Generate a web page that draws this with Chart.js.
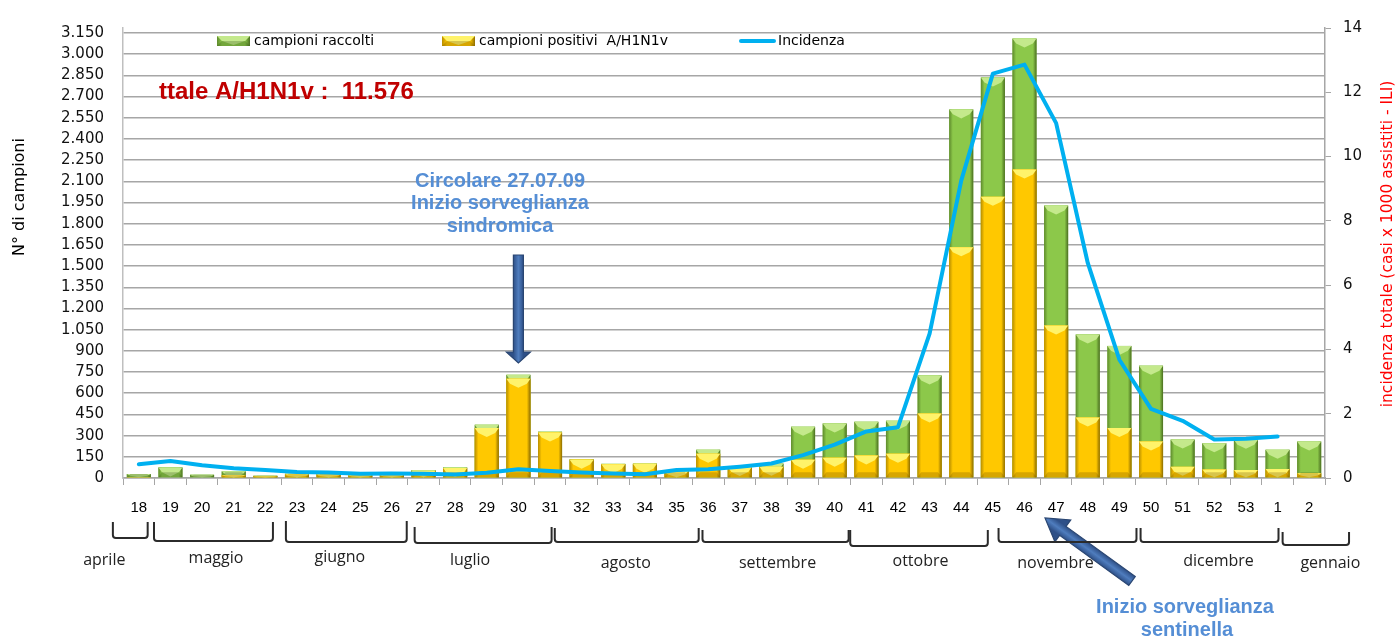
<!DOCTYPE html>
<html>
<head>
<meta charset="utf-8">
<script src="https://cdn.jsdelivr.net/npm/chart.js@4/dist/chart.umd.min.js"></script>
<style>
html,body{margin:0;padding:0;background:#fff;}
canvas{display:block;}
</style>
</head>
<body>
<canvas id="c" width="1399" height="639"></canvas>
<script>
// ---------- DATA ----------
const weeks = ['18','19','20','21','22','23','24','25','26','27','28','29','30','31','32','33','34','35','36','37','38','39','40','41','42','43','44','45','46','47','48','49','50','51','52','53','1','2'];
const campioniRaccolti = [28,75,23,47,16,30,28,20,25,56,76,377,730,328,133,100,102,56,200,85,102,363,386,398,405,726,2609,2835,3110,1928,1016,935,795,272,246,270,200,258];
const campioniPositivi = [3,0,0,20,12,25,25,18,22,50,70,354,703,322,130,98,100,50,172,78,79,130,144,160,172,456,1633,1990,2184,1079,428,354,258,79,60,56,63,33];
const incidenza = [0.43,0.53,0.40,0.30,0.25,0.19,0.17,0.13,0.14,0.13,0.11,0.16,0.27,0.22,0.17,0.14,0.12,0.25,0.27,0.35,0.45,0.71,1.04,1.45,1.58,4.49,9.25,12.58,12.86,11.04,6.69,3.68,2.15,1.78,1.20,1.22,1.29,null];
const seriesLabels = ['campioni raccolti','campioni positivi  A/H1N1v','Incidenza'];
const months = ['aprile','maggio','giugno','luglio','agosto','settembre','ottobre','novembre','dicembre','gennaio'];
const monthFirstWeek = ['18','19','23','27','32','36','41','46','50','2'];
const monthLastWeek  = ['18','22','26','31','35','40','45','49','1','2'];
const leftAxisTitle = 'N° di campioni';
const rightAxisTitle = 'incidenza totale (casi x 1000 assistiti - ILI)';
const totalText = 'ttale A/H1N1v :  11.576';
const note1 = ['Circolare 27.07.09','Inizio sorveglianza','sindromica'];
const note2 = ['Inizio sorveglianza','sentinella'];

// ---------- STYLE ----------
const fmt = v => String(v).replace(/\B(?=(\d{3})+(?!\d))/g, '.');
const palGreen  = {mid:'#8CC84A', edgeL:'#5E8A2C', edgeR:'#4A6E20', light:'#C4E98C', dark:'rgba(50,80,20,0.28)'};
const palYellow = {mid:'#FFC800', edgeL:'#B88E00', edgeR:'#8E6D00', light:'#FFF36A', dark:'rgba(110,80,0,0.28)'};
const palettes = {0: palGreen, 1: palYellow};

function shadeBar(ctx, x, top, base, w, p) {
  const l = x - w / 2, r = x + w / 2, h = base - top;
  if (h < 0.8) return;
  const g = ctx.createLinearGradient(l, 0, r, 0);
  g.addColorStop(0, p.edgeL); g.addColorStop(0.15, p.mid);
  g.addColorStop(0.85, p.mid); g.addColorStop(1, p.edgeR);
  ctx.fillStyle = g;
  ctx.fillRect(l, top, w, h);
  const bh = Math.min(9, h);
  ctx.fillStyle = p.light;
  ctx.beginPath();
  ctx.moveTo(l, top); ctx.lineTo(r, top);
  ctx.lineTo(r - w * 0.15, top + bh * 0.55);
  ctx.lineTo(x, top + bh);
  ctx.lineTo(l + w * 0.15, top + bh * 0.55);
  ctx.closePath(); ctx.fill();
  const dh = Math.min(5, h);
  ctx.fillStyle = p.dark;
  ctx.beginPath();
  ctx.moveTo(l, base); ctx.lineTo(r, base);
  ctx.lineTo(r - w * 0.15, base - dh); ctx.lineTo(l + w * 0.15, base - dh);
  ctx.closePath(); ctx.fill();
}

function arrow(ctx, x0, y0, x1, y1, sw, hw, hl) {
  const dx = x1 - x0, dy = y1 - y0, L = Math.hypot(dx, dy);
  const ux = dx / L, uy = dy / L, nx = -uy, ny = ux;
  const bx = x1 - ux * hl, by = y1 - uy * hl;
  const pts = [
    [x0 + nx * sw / 2, y0 + ny * sw / 2],
    [bx + nx * sw / 2, by + ny * sw / 2],
    [bx + nx * hw / 2, by + ny * hw / 2],
    [x1, y1],
    [bx - nx * hw / 2, by - ny * hw / 2],
    [bx - nx * sw / 2, by - ny * sw / 2],
    [x0 - nx * sw / 2, y0 - ny * sw / 2]
  ];
  const g = ctx.createLinearGradient(x0 + nx * sw / 2, y0 + ny * sw / 2, x0 - nx * sw / 2, y0 - ny * sw / 2);
  g.addColorStop(0, '#2E5088'); g.addColorStop(0.5, '#4F7DBE'); g.addColorStop(1, '#2E5088');
  ctx.beginPath();
  pts.forEach((p, i) => i ? ctx.lineTo(p[0], p[1]) : ctx.moveTo(p[0], p[1]));
  ctx.closePath();
  ctx.fillStyle = g; ctx.fill();
  ctx.strokeStyle = '#2A4672'; ctx.lineWidth = 1.2; ctx.stroke();
}

// bracket layout: [start offset, end offset (in category widths), top, bottom, label dx, label y]
const bracketLayout = [
  [-0.82, 0.28, 522, 538, -26, 560],
  [-0.52, 0.24, 522, 541, 2.5, 558],
  [-0.35, 0.47, 521, 542, -6.5, 557],
  [-0.28, 0.05, 527, 543, -13, 560],
  [-0.85, 0.70, 528, 542, -1, 563],
  [-0.18, 0.44, 530, 542, 2, 563],
  [-0.51, -0.16, 530, 546, 1.5, 561],
  [-0.82, 0.54, 528, 542, -12, 563],
  [-0.33, 0.03, 528, 542, 9, 561],
  [-0.84, 1.26, 532, 545, 14.5, 563]
];

const deco = {
  id: 'deco',
  afterDatasetDraw(chart, args) {
    const pal = palettes[args.index];
    if (!pal) return;
    const ctx = chart.ctx;
    ctx.save();
    args.meta.data.forEach(el => {
      const p = el.getProps(['x', 'y', 'base', 'width'], true);
      shadeBar(ctx, p.x, p.y, p.base, p.width, pal);
    });
    ctx.restore();
  },
  afterDraw(chart) {
    const ctx = chart.ctx;
    const xs = chart.scales.x;
    ctx.save();

    // legend
    ctx.font = '14px "DejaVu Sans"';
    ctx.textBaseline = 'middle';
    ctx.textAlign = 'left';
    shadeBar(ctx, 217 + 16.5, 36, 46, 33, palGreen);
    ctx.fillStyle = '#000'; ctx.fillText(seriesLabels[0], 254, 41);
    shadeBar(ctx, 442 + 16.5, 36, 46, 33, palYellow);
    ctx.fillStyle = '#000'; ctx.fillText(seriesLabels[1], 479, 41);
    ctx.strokeStyle = '#00B0F0'; ctx.lineWidth = 4; ctx.lineCap = 'round';
    ctx.beginPath(); ctx.moveTo(741, 41); ctx.lineTo(774, 41); ctx.stroke();
    ctx.fillStyle = '#000'; ctx.fillText(seriesLabels[2], 778, 41);

    // axis titles
    ctx.save();
    ctx.translate(20, 197); ctx.rotate(-Math.PI / 2);
    ctx.textAlign = 'center'; ctx.font = '16px "DejaVu Sans"'; ctx.fillStyle = '#000';
    ctx.fillText(leftAxisTitle, 0, 0);
    ctx.restore();
    ctx.save();
    ctx.translate(1388, 244); ctx.rotate(-Math.PI / 2);
    ctx.textAlign = 'center'; ctx.font = '15.5px "DejaVu Sans"'; ctx.fillStyle = '#FF0000';
    ctx.fillText(rightAxisTitle, 0, 0);
    ctx.restore();

    // total
    ctx.font = 'bold 24px "Liberation Sans"';
    ctx.fillStyle = '#C00000'; ctx.textAlign = 'left';
    ctx.fillText(totalText, 159, 92);

    // note 1 + arrow
    ctx.font = 'bold 20px "Liberation Sans"';
    ctx.fillStyle = '#558ED5'; ctx.textAlign = 'center';
    note1.forEach((t, i) => ctx.fillText(t, 500, 181 + i * 22.5));
    const ax = xs.getPixelForValue(weeks.indexOf('30'));
    arrow(ctx, ax, 255, ax, 363, 10, 24, 11);

    // note 2 + arrow
    ctx.fillStyle = '#558ED5';
    ctx.fillText(note2[0], 1185, 607);
    ctx.fillText(note2[1], 1187, 630);
    arrow(ctx, 1132, 581, 1045, 518, 11, 27, 22);

    // month brackets
    const step = xs.getPixelForValue(1) - xs.getPixelForValue(0);
    ctx.strokeStyle = '#2b2b2b'; ctx.lineWidth = 2; ctx.lineCap = 'butt'; ctx.lineJoin = 'round';
    ctx.font = '16px "Open Sans"'; ctx.fillStyle = '#222'; ctx.textAlign = 'center';
    months.forEach((m, i) => {
      const [o0, o1, top, bot, ldx, ly] = bracketLayout[i];
      const x0 = xs.getPixelForValue(weeks.indexOf(monthFirstWeek[i])) + o0 * step;
      const x1 = xs.getPixelForValue(weeks.indexOf(monthLastWeek[i])) + o1 * step;
      const r = 3;
      ctx.beginPath();
      ctx.moveTo(x0, top);
      ctx.lineTo(x0, bot - r);
      ctx.quadraticCurveTo(x0, bot, x0 + r, bot);
      ctx.lineTo(x1 - r, bot);
      ctx.quadraticCurveTo(x1, bot, x1, bot - r);
      ctx.lineTo(x1, top);
      ctx.stroke();
      ctx.fillText(m, (x0 + x1) / 2 + ldx, ly);
    });
    ctx.restore();
  }
};

new Chart(document.getElementById('c'), {
  data: {
    labels: weeks,
    datasets: [
      {type: 'bar', label: seriesLabels[0], data: campioniRaccolti, yAxisID: 'y', order: 2,
       backgroundColor: palGreen.mid, borderWidth: 0, barPercentage: 0.76, categoryPercentage: 1},
      {type: 'bar', label: seriesLabels[1], data: campioniPositivi, yAxisID: 'y', order: 1,
       backgroundColor: palYellow.mid, borderWidth: 0, barPercentage: 0.76, categoryPercentage: 1},
      {type: 'line', label: seriesLabels[2], data: incidenza, yAxisID: 'y2', order: 0,
       borderColor: '#00B0F0', backgroundColor: '#00B0F0', borderWidth: 4, pointRadius: 0,
       tension: 0, spanGaps: false, borderJoinStyle: 'round', borderCapStyle: 'round'}
    ]
  },
  options: {
    responsive: false,
    animation: false,
    layout: {padding: {top: 22, left: 0, right: 0, bottom: 0}},
    plugins: {legend: {display: false}, tooltip: {enabled: false}},
    scales: {
      x: {
        stacked: true, offset: true,
        grid: {offset: true, drawOnChartArea: false, drawTicks: true, tickLength: 7, color: '#A6A6A6'},
        border: {color: '#A6A6A6', width: 1.5},
        ticks: {font: {family: 'Liberation Sans', size: 15}, color: '#000', padding: 14, maxRotation: 0, autoSkip: false},
        afterFit: s => { s.height = 161; }
      },
      y: {
        position: 'left', stacked: false, min: 0, max: 3185,
        ticks: {stepSize: 150, includeBounds: false, padding: 19, color: '#111',
                font: {family: 'DejaVu Sans', size: 15}, callback: v => fmt(v)},
        grid: {color: '#A6A6A6', lineWidth: 1.5, drawTicks: false},
        border: {color: '#BFBFBF', width: 1.5},
        afterFit: s => { s.width = 123; }
      },
      y2: {
        position: 'right', min: 0, max: 14,
        ticks: {stepSize: 2, padding: 12, color: '#111', font: {family: 'DejaVu Sans', size: 15}},
        grid: {drawOnChartArea: false, tickLength: 6, color: '#A6A6A6'},
        border: {color: '#A6A6A6', width: 1.5},
        afterFit: s => { s.width = 74; }
      }
    }
  },
  plugins: [deco]
});
</script>
</body>
</html>
